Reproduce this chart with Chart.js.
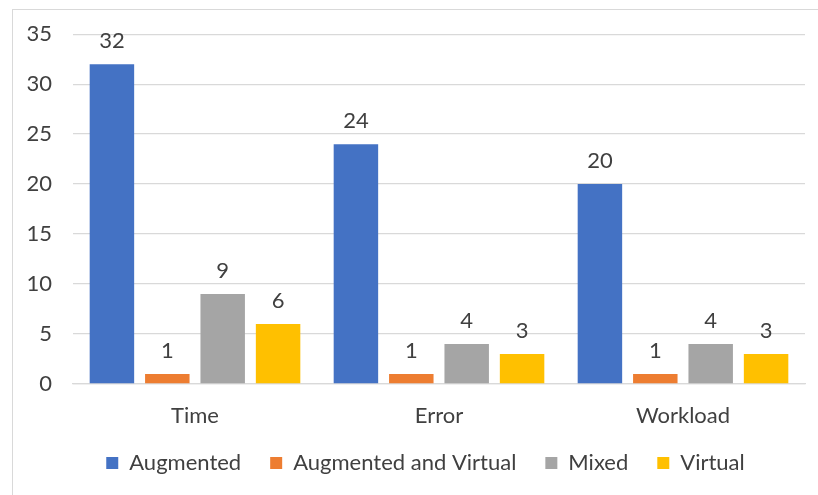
<!DOCTYPE html>
<html><head><meta charset="utf-8">
<script src="https://cdn.jsdelivr.net/npm/chart.js@4"></script>
<style>
html,body{margin:0;padding:0;background:#fff;overflow:hidden}
#frame{position:absolute;left:12px;top:9px;width:900px;height:600px;border:1px solid #d9d9d9;box-sizing:border-box}
#wrap{position:absolute;left:0;top:0;width:818px;height:495px}
</style></head><body>
<div id="frame"></div>
<div id="wrap"><canvas id="c" width="818" height="495"></canvas></div>
<script>
const categories = ['Time', 'Error', 'Workload'];
const seriesNames = ['Augmented', 'Augmented and Virtual', 'Mixed', 'Virtual'];
const augmented = [32, 24, 20];
const augmentedAndVirtual = [1, 1, 1];
const mixed = [9, 4, 4];
const virtual = [6, 3, 3];
const yMin = 0, yMax = 35, yStep = 5;
const colors = ['#4472C4', '#ED7D31', '#A5A5A5', '#FFC000'];

const FONT = 'Lato, "Open Sans", sans-serif';
const TEXT = '#404040';
const FS = 22;

const dataLabels = {
  id: 'dataLabels',
  afterDatasetsDraw(chart) {
    const ctx = chart.ctx;
    ctx.save();
    ctx.font = FS + 'px ' + FONT;
    ctx.fillStyle = TEXT;
    ctx.textAlign = 'center';
    ctx.textBaseline = 'alphabetic';
    chart.data.datasets.forEach((ds, i) => {
      const meta = chart.getDatasetMeta(i);
      meta.data.forEach((el, j) => {
        ctx.fillText(String(ds.data[j]), el.x, el.y - 16);
      });
    });
    ctx.restore();
  }
};

const legendShift = {
  id: 'legendShift',
  afterLayout(chart) {
    const lg = chart.legend;
    if (lg) { lg.left += 23; lg.right += 23; }
  }
};

const seriesValues = [augmented, augmentedAndVirtual, mixed, virtual];

new Chart(document.getElementById('c'), {
  type: 'bar',
  data: {
    labels: categories,
    datasets: seriesNames.map((n, i) => ({
      label: n,
      data: seriesValues[i],
      backgroundColor: colors[i],
      borderWidth: 0,
      categoryPercentage: 0.908,
      barPercentage: 0.803
    }))
  },
  options: {
    responsive: false,
    animation: false,
    devicePixelRatio: 1,
    layout: { padding: { left: 0, right: 13, top: 34, bottom: 11 } },
    plugins: {
      tooltip: { enabled: false },
      legend: {
        position: 'bottom',
        labels: {
          boxWidth: 12, boxHeight: 12, padding: 29,
          color: TEXT, font: { family: FONT, size: FS }
        }
      }
    },
    scales: {
      y: {
        min: yMin, max: yMax,
        ticks: { stepSize: yStep, color: TEXT, font: { family: FONT, size: FS }, padding: 21 },
        grid: { color: '#d9d9d9', lineWidth: 1.3, drawTicks: false },
        border: { display: false },
        afterFit(s) { s.width = 73; }
      },
      x: {
        clip: false,
        ticks: { color: TEXT, font: { family: FONT, size: FS }, padding: 19 },
        grid: { display: false, drawTicks: false },
        border: { display: true, color: '#d9d9d9', width: 1.3 },
        afterFit(s) { s.height = 39; }
      }
    }
  },
  plugins: [dataLabels, legendShift]
});
</script>
</body></html>
